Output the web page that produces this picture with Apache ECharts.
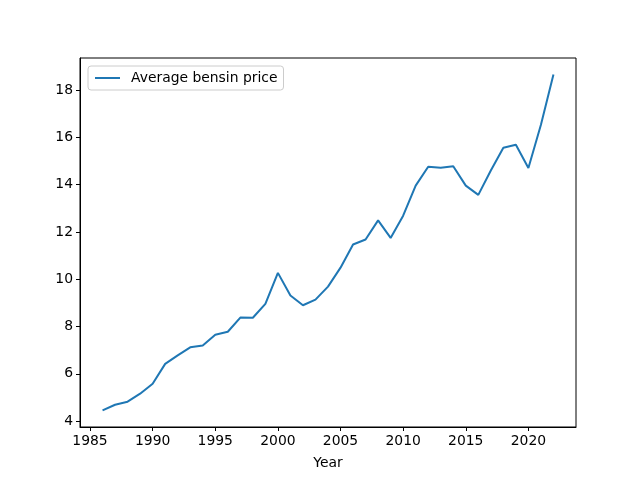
<!DOCTYPE html>
<html>
<head>
<meta charset="utf-8">
<script src="https://cdn.jsdelivr.net/npm/echarts@6/dist/echarts.min.js"></script>
<style>html,body{margin:0;padding:0;background:#fff}#c{width:640px;height:480px}</style>
</head>
<body>
<div id="c"></div>
<script>
const years = [1986,1987,1988,1989,1990,1991,1992,1993,1994,1995,1996,1997,1998,1999,2000,2001,2002,2003,2004,2005,2006,2007,2008,2009,2010,2011,2012,2013,2014,2015,2016,2017,2018,2019,2020,2021,2022];
const prices = [4.45,4.69,4.82,5.16,5.58,6.42,6.78,7.12,7.20,7.65,7.78,8.38,8.37,8.96,10.27,9.31,8.90,9.14,9.69,10.49,11.47,11.68,12.49,11.75,12.69,13.96,14.76,14.72,14.78,13.96,13.57,14.60,15.56,15.69,14.71,16.54,18.66];
const xTicks = [1985,1990,1995,2000,2005,2010,2015,2020];
const yTicks = [4,6,8,10,12,14,16,18];
const seriesName = 'Average bensin price';
const xLabel = 'Year';

const chart = echarts.init(document.getElementById('c'), null, {renderer:'canvas'});
const font = 'DejaVu Sans';
chart.setOption({
  animation:false,
  backgroundColor:'#fff',
  grid:{left:80,right:64,top:58,bottom:53,show:true,borderColor:'#000',borderWidth:1,backgroundColor:'transparent'},
  legend:{
    left:88, top:66, orient:'vertical',
    padding:[5,6,5,7],
    itemWidth:25, itemHeight:14,
    borderColor:'#cccccc', borderWidth:1, borderRadius:3,
    backgroundColor:'rgba(255,255,255,0.8)',
    textStyle:{fontFamily:font,fontSize:13.9,color:'#000',padding:[0,0,0,6]},
    data:[{name:seriesName,icon:'path://M0,0 L25,0 L25,2 L0,2 Z'}]
  },
  xAxis:{
    type:'value', min:1984.2, max:2023.8,
    name:xLabel, nameLocation:'middle', nameGap:29,
    nameTextStyle:{fontFamily:font,fontSize:13.9,color:'#000'},
    axisLine:{show:true,onZero:false,lineStyle:{color:'#000',width:1}},
    axisTick:{show:true,length:4,lineStyle:{color:'#000',width:1},customValues:xTicks},
    axisLabel:{fontFamily:font,fontSize:13.9,color:'#000',margin:7,customValues:xTicks,formatter:v=>String(v)},
    splitLine:{show:false}
  },
  yAxis:{
    type:'value', min:3.75, max:19.36,
    axisLine:{show:true,onZero:false,lineStyle:{color:'#000',width:1}},
    axisTick:{show:true,length:4,lineStyle:{color:'#000',width:1},customValues:yTicks},
    axisLabel:{fontFamily:font,fontSize:13.9,color:'#000',margin:7,customValues:yTicks,formatter:v=>String(v)},
    splitLine:{show:false}
  },
  series:[{
    name:seriesName, type:'line', symbol:'none',
    lineStyle:{color:'#1f77b4',width:2},
    itemStyle:{color:'#1f77b4'},
    data: years.map((y,i)=>[y,prices[i]])
  }]
});
</script>
</body>
</html>
